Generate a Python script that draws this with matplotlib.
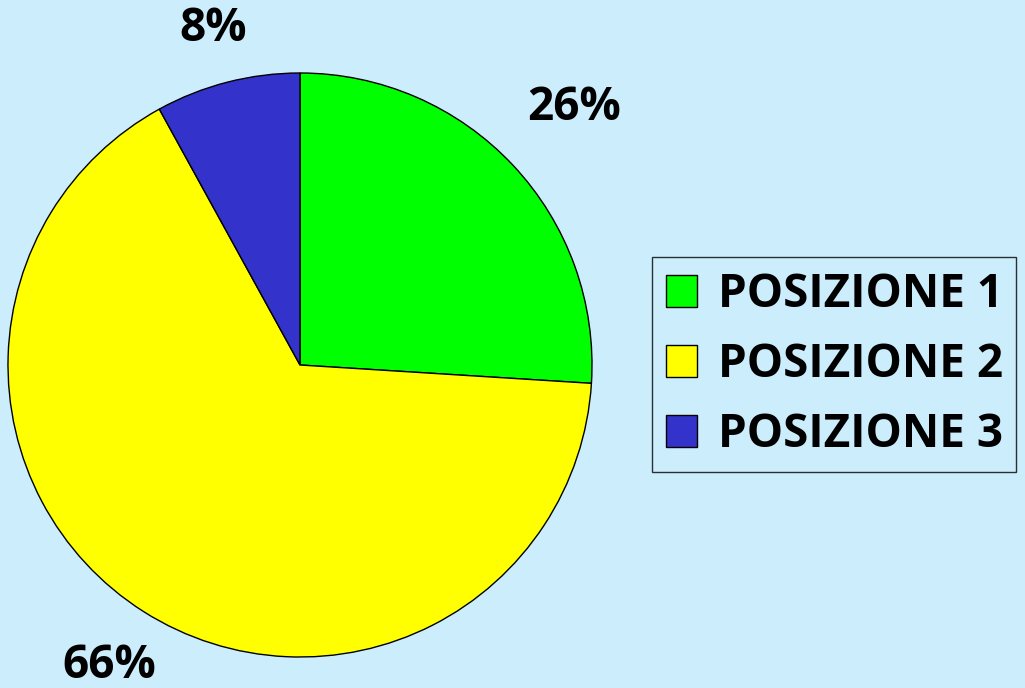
import matplotlib
matplotlib.use('Agg')
import numpy as np
import matplotlib.pyplot as plt

labels = ['POSIZIONE 1', 'POSIZIONE 2', 'POSIZIONE 3']
values = [26, 66, 8]
colors = ['#00ff00', '#ffff00', '#3333cc']
label_dist = [1.29, 1.22, 1.19]  # distance of each % label from the centre
bg = '#cceefc'

plt.rcParams['font.family'] = ['Open Sans', 'DejaVu Sans']

fig = plt.figure(figsize=(10.25, 6.88), dpi=100, facecolor=bg)
ax = fig.add_axes([8 / 1025, 31 / 688, 584 / 1025, 584 / 688])
ax.set_facecolor(bg)

wedges, texts, autotexts = ax.pie(
    values, colors=colors, startangle=90, counterclock=False,
    autopct='%d%%', pctdistance=1.25,
    wedgeprops=dict(edgecolor='black', linewidth=1.0),
    textprops=dict(fontsize=33, fontweight='bold', color='black'),
)
# nudge each label along its wedge's bisector
for w, t, d in zip(wedges, autotexts, label_dist):
    ang = np.deg2rad((w.theta1 + w.theta2) / 2)
    t.set_position((d * np.cos(ang), d * np.sin(ang)))

ax.set_xlim(-1, 1)
ax.set_ylim(-1, 1)
ax.set_aspect('equal')
ax.axis('off')

leg = fig.legend(
    wedges, labels, loc='center left',
    bbox_to_anchor=(652 / 1025, 1 - 364.5 / 688),
    prop=dict(weight='bold', size=33), frameon=True, fancybox=False,
    handlelength=0.68, handleheight=0.7, handletextpad=0.45,
    labelspacing=0.5, borderpad=0.3, borderaxespad=0,
)
leg.get_frame().set_facecolor(bg)
leg.get_frame().set_edgecolor('black')
leg.get_frame().set_linewidth(1.0)

fig.savefig('out.png', dpi=100, facecolor=bg)
